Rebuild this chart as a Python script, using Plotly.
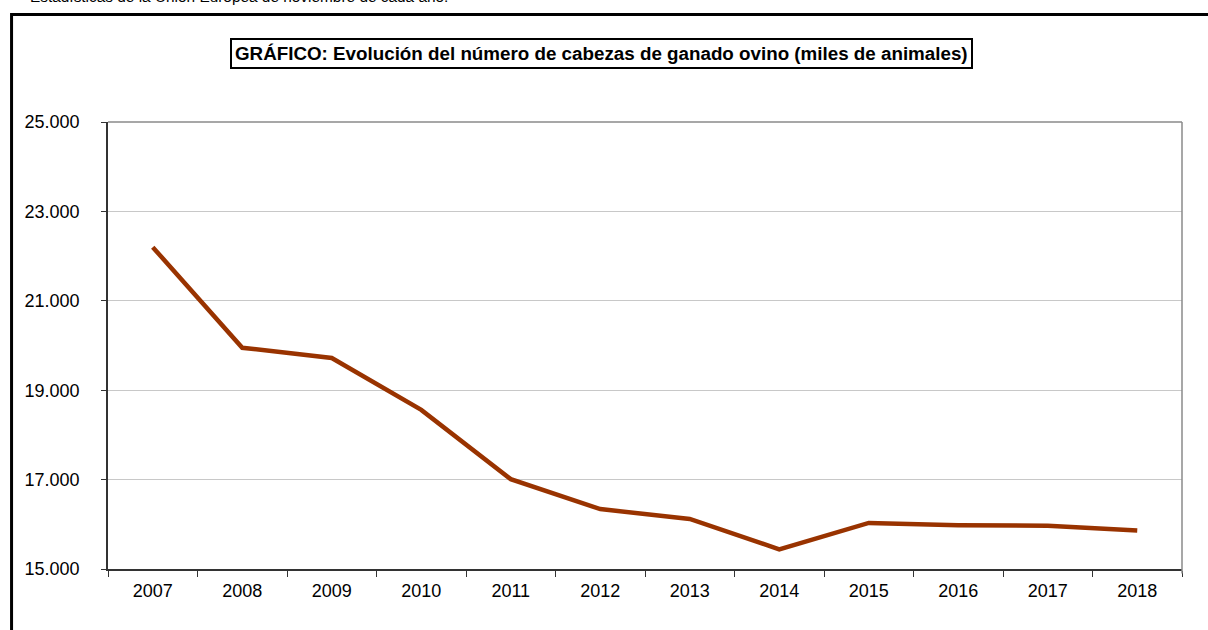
import plotly.graph_objects as go

years = ["2007", "2008", "2009", "2010", "2011", "2012", "2013", "2014", "2015", "2016", "2017", "2018"]
heads = [22200, 19950, 19720, 18560, 17010, 16340, 16120, 15440, 16030, 15980, 15970, 15860]
y_ticks = [15000, 17000, 19000, 21000, 23000, 25000]

title_text = "GRÁFICO: Evolución del número de cabezas de ganado ovino (miles de animales)"
top_note = "Estadísticas de la Unión Europea de noviembre de cada año."

fig = go.Figure()
fig.add_trace(go.Scatter(
    x=years, y=heads, mode="lines",
    line=dict(color="#993300", width=4.5),
    hoverinfo="x+y",
))

font_family = "Liberation Sans, Arial, sans-serif"

fig.update_layout(
    width=1208, height=630,
    margin=dict(l=108, r=26, t=122, b=61),
    paper_bgcolor="white", plot_bgcolor="white",
    showlegend=False,
    separators=",.",
    font=dict(family=font_family, color="black", size=18),
    xaxis=dict(
        type="category", range=[-0.5, 11.5],
        tickson="boundaries", ticks="outside", ticklen=6, tickcolor="#333333",
        showline=True, linecolor="#333333", linewidth=1.5,
        showgrid=False, tickfont=dict(size=18), ticklabelstandoff=5,
    ),
    yaxis=dict(
        range=[15000, 25000], tickvals=y_ticks, tickformat=",d",
        ticks="outside", ticklen=5, tickcolor="#333333",
        showline=True, linecolor="#333333", linewidth=1.5,
        showgrid=True, gridcolor="#c8c8c8", gridwidth=1,
        zeroline=False, tickfont=dict(size=18), ticklabelstandoff=18,
    ),
    shapes=[
        dict(type="line", xref="paper", yref="paper", x0=0, x1=1, y0=1, y1=1,
             line=dict(color="#8a8a8a", width=1.5)),
        dict(type="line", xref="paper", yref="paper", x0=1, x1=1, y0=1, y1=-0.01,
             line=dict(color="#8a8a8a", width=1.5)),
        dict(type="rect", xref="paper", yref="paper", x0=-0.0898, x1=1.2, y0=1.2405, y1=-0.3,
             line=dict(color="black", width=3), fillcolor="rgba(0,0,0,0)", layer="above"),
    ],
    annotations=[
        dict(text="<b>" + title_text + "</b>", xref="paper", yref="paper",
             x=0.4595, y=1.1532, xanchor="center", yanchor="middle", showarrow=False,
             font=dict(size=18.8, family=font_family, color="black"),
             bordercolor="black", borderwidth=2, borderpad=3, bgcolor="white"),
        dict(text=top_note, xref="paper", yref="paper",
             x=(28 - 108) / 1074, y=(569 - 7) / 447, xanchor="left", yanchor="bottom",
             showarrow=False, font=dict(size=15.4, family=font_family, color="black")),
    ],
)

fig.write_html("out.html", config={"displayModeBar": False},
               post_script="document.body.style.margin='0';")
